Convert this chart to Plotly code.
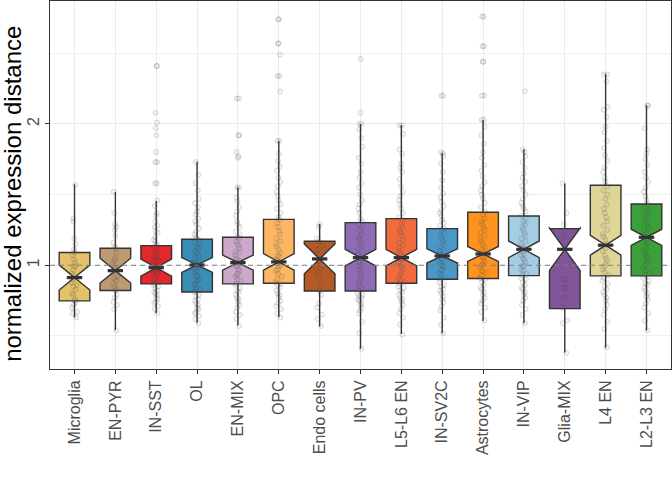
import plotly.graph_objects as go

categories = ["Microglia", "EN-PYR", "IN-SST", "OL", "EN-MIX", "OPC", "Endo cells",
              "IN-PV", "L5-L6 EN", "IN-SV2C", "Astrocytes", "IN-VIP", "Glia-MIX",
              "L4 EN", "L2-L3 EN"]
colors = ["#E5C16A", "#BD9A72", "#E5262B", "#3A8DB4", "#CCA9CB", "#FDB762", "#B35A26",
          "#8F6BB5", "#F26B3D", "#4A98CA", "#FF931E", "#A4CCE3", "#805499",
          "#DED596", "#3AA13A"]

q1 = [0.748, 0.821, 0.868, 0.811, 0.868, 0.873, 0.818, 0.818, 0.873, 0.901, 0.906, 0.927, 0.693, 0.925, 0.925]
median = [0.913, 0.962, 0.983, 1.002, 1.019, 1.024, 1.045, 1.054, 1.054, 1.066, 1.080, 1.113, 1.113, 1.142, 1.198]
q3 = [1.090, 1.120, 1.139, 1.184, 1.198, 1.325, 1.170, 1.302, 1.330, 1.259, 1.375, 1.349, 1.259, 1.566, 1.434]
lower = [0.630, 0.542, 0.660, 0.594, 0.573, 0.632, 0.566, 0.410, 0.514, 0.519, 0.606, 0.590, 0.382, 0.417, 0.538]
upper = [1.573, 1.519, 1.455, 1.733, 1.552, 1.880, 1.292, 2.000, 1.993, 1.797, 2.028, 1.821, 1.578, 2.354, 2.132]
notchspan = [0.088, 0.088, 0.060, 0.052, 0.053, 0.058, 0.105, 0.058, 0.058, 0.050, 0.053, 0.059, 0.150, 0.070, 0.057]

pts_microglia = [1.57, 1.33, 1.31, 1.19, 1.15, 1.11, 1.09, 1.07, 1.04, 1.02, 1.00, 0.99, 0.97, 0.94, 0.93, 0.91,
                 0.90, 0.88, 0.86, 0.85, 0.83, 0.80, 0.79, 0.76, 0.75, 0.74, 0.72, 0.70, 0.67, 0.66, 0.63]
pts_en_pyr = [1.52, 1.37, 1.29, 1.27, 1.25, 1.21, 1.16, 1.13, 1.12, 1.09, 1.05, 1.03, 1.01, 0.98, 0.97, 0.96,
              0.95, 0.92, 0.91, 0.89, 0.87, 0.85, 0.83, 0.82, 0.79, 0.77, 0.74, 0.72, 0.69, 0.54]
pts_in_sst = [2.41, 2.41, 2.08, 2.01, 1.97, 1.92, 1.80, 1.73, 1.73, 1.58, 1.58, 1.46, 1.42, 1.37, 1.35, 1.31,
              1.28, 1.27, 1.24, 1.23, 1.20, 1.18, 1.17, 1.15, 1.14, 1.13, 1.11, 1.10, 1.09, 1.07, 1.06, 1.05,
              1.04, 1.03, 1.03, 1.01, 1.00, 0.99, 0.99, 0.98, 0.97, 0.96, 0.95, 0.95, 0.94, 0.93, 0.91, 0.90,
              0.89, 0.88, 0.87, 0.86, 0.85, 0.84, 0.82, 0.81, 0.80, 0.79, 0.77, 0.76, 0.74, 0.73, 0.71, 0.69, 0.66]
pts_ol = [1.73, 1.64, 1.58, 1.53, 1.47, 1.44, 1.41, 1.38, 1.36, 1.33, 1.31, 1.29, 1.26, 1.24, 1.22, 1.20,
          1.19, 1.18, 1.16, 1.15, 1.13, 1.12, 1.10, 1.09, 1.08, 1.06, 1.05, 1.03, 1.02, 1.01, 1.00, 0.99,
          0.98, 0.96, 0.95, 0.93, 0.92, 0.90, 0.89, 0.87, 0.86, 0.84, 0.83, 0.82, 0.81, 0.79, 0.78, 0.76,
          0.75, 0.73, 0.72, 0.70, 0.69, 0.67, 0.66, 0.64, 0.62, 0.59]
pts_en_mix = [2.18, 2.18, 1.92, 1.92, 1.80, 1.77, 1.76, 1.55, 1.55, 1.48, 1.45, 1.41, 1.38, 1.35, 1.31, 1.29,
              1.27, 1.24, 1.22, 1.20, 1.19, 1.17, 1.15, 1.14, 1.12, 1.10, 1.09, 1.07, 1.05, 1.04, 1.03, 1.02,
              1.01, 1.00, 0.99, 0.97, 0.96, 0.94, 0.93, 0.92, 0.90, 0.89, 0.87, 0.86, 0.84, 0.82, 0.81, 0.79,
              0.77, 0.76, 0.74, 0.72, 0.70, 0.67, 0.65, 0.62, 0.57]
pts_opc = [2.74, 2.74, 2.57, 2.57, 2.49, 2.34, 2.34, 2.23, 1.88, 1.88, 1.79, 1.74, 1.70, 1.67, 1.62, 1.59,
           1.56, 1.52, 1.49, 1.46, 1.43, 1.40, 1.37, 1.34, 1.32, 1.30, 1.27, 1.24, 1.22, 1.19, 1.17, 1.15,
           1.13, 1.11, 1.09, 1.07, 1.06, 1.04, 1.03, 1.02, 1.00, 0.99, 0.97, 0.96, 0.94, 0.92, 0.90, 0.88,
           0.87, 0.86, 0.84, 0.82, 0.80, 0.79, 0.77, 0.75, 0.73, 0.71, 0.69, 0.66, 0.63]
pts_endo = [1.29, 1.27, 1.19, 1.17, 1.14, 1.11, 1.08, 1.05, 1.03, 0.98, 0.95, 0.92, 0.86, 0.82, 0.79, 0.73,
            0.70, 0.65, 0.62, 0.57]
pts_in_pv = [2.46, 2.08, 2.00, 2.00, 1.96, 1.90, 1.84, 1.76, 1.72, 1.66, 1.62, 1.58, 1.55, 1.50, 1.46, 1.43,
             1.40, 1.37, 1.33, 1.31, 1.29, 1.27, 1.25, 1.22, 1.20, 1.18, 1.16, 1.14, 1.12, 1.10, 1.08, 1.07,
             1.05, 1.04, 1.02, 1.00, 0.99, 0.97, 0.95, 0.93, 0.91, 0.89, 0.87, 0.85, 0.83, 0.82, 0.80, 0.79,
             0.78, 0.77, 0.76, 0.75, 0.73, 0.72, 0.70, 0.68, 0.66, 0.60, 0.52, 0.41]
pts_l5_l6_en = [1.99, 1.99, 1.93, 1.82, 1.79, 1.72, 1.69, 1.66, 1.61, 1.56, 1.52, 1.49, 1.46, 1.43, 1.40, 1.37,
                1.34, 1.32, 1.29, 1.27, 1.25, 1.23, 1.21, 1.18, 1.16, 1.14, 1.12, 1.10, 1.08, 1.06, 1.05, 1.04,
                1.02, 1.00, 0.99, 0.97, 0.95, 0.93, 0.91, 0.90, 0.88, 0.87, 0.85, 0.84, 0.82, 0.81, 0.79, 0.77,
                0.76, 0.74, 0.72, 0.69, 0.66, 0.63, 0.58, 0.51]
pts_in_sv2c = [2.20, 2.20, 1.80, 1.79, 1.77, 1.72, 1.66, 1.60, 1.55, 1.51, 1.48, 1.45, 1.42, 1.39, 1.37, 1.35,
               1.32, 1.30, 1.28, 1.26, 1.25, 1.23, 1.21, 1.19, 1.17, 1.15, 1.13, 1.11, 1.10, 1.08, 1.07, 1.06,
               1.05, 1.04, 1.02, 1.01, 1.00, 0.99, 0.97, 0.96, 0.94, 0.93, 0.91, 0.90, 0.88, 0.86, 0.85, 0.83,
               0.82, 0.80, 0.78, 0.76, 0.74, 0.71, 0.68, 0.63, 0.58, 0.52]
pts_astrocytes = [2.76, 2.76, 2.55, 2.55, 2.44, 2.44, 2.20, 2.20, 2.03, 2.03, 1.98, 1.92, 1.86, 1.80, 1.76, 1.71,
                  1.67, 1.63, 1.59, 1.56, 1.53, 1.50, 1.47, 1.44, 1.41, 1.38, 1.36, 1.33, 1.31, 1.29, 1.27, 1.25,
                  1.23, 1.21, 1.19, 1.17, 1.15, 1.13, 1.11, 1.09, 1.08, 1.06, 1.05, 1.03, 1.01, 1.00, 0.98, 0.96,
                  0.95, 0.93, 0.91, 0.90, 0.88, 0.86, 0.84, 0.83, 0.81, 0.79, 0.77, 0.75, 0.73, 0.70, 0.67, 0.61]
pts_in_vip = [2.23, 1.82, 1.80, 1.77, 1.73, 1.69, 1.65, 1.62, 1.59, 1.56, 1.53, 1.50, 1.47, 1.44, 1.42, 1.40,
              1.38, 1.35, 1.33, 1.31, 1.29, 1.27, 1.25, 1.23, 1.21, 1.19, 1.17, 1.15, 1.13, 1.12, 1.11, 1.10,
              1.08, 1.07, 1.05, 1.04, 1.02, 1.00, 0.99, 0.97, 0.96, 0.94, 0.93, 0.91, 0.90, 0.88, 0.86, 0.84,
              0.83, 0.81, 0.79, 0.77, 0.75, 0.72, 0.69, 0.65, 0.59]
pts_glia_mix = [1.58, 1.37, 1.29, 1.21, 1.20, 0.90, 0.90, 0.84, 0.84, 0.77, 0.70, 0.61, 0.59, 0.38]
pts_l4_en = [2.35, 2.35, 2.30, 2.12, 2.10, 2.05, 1.98, 1.94, 1.88, 1.83, 1.78, 1.74, 1.69, 1.66, 1.62, 1.59,
             1.56, 1.53, 1.50, 1.47, 1.43, 1.40, 1.37, 1.34, 1.31, 1.28, 1.25, 1.22, 1.20, 1.18, 1.15, 1.14,
             1.12, 1.10, 1.07, 1.05, 1.03, 1.01, 0.99, 0.97, 0.95, 0.93, 0.91, 0.89, 0.87, 0.85, 0.83, 0.81,
             0.79, 0.77, 0.75, 0.72, 0.69, 0.65, 0.60, 0.55, 0.42]
pts_l2_l3_en = [2.13, 2.13, 1.97, 1.82, 1.79, 1.75, 1.71, 1.66, 1.62, 1.59, 1.55, 1.52, 1.49, 1.46, 1.43, 1.41,
                1.39, 1.37, 1.35, 1.33, 1.31, 1.29, 1.27, 1.25, 1.23, 1.21, 1.20, 1.18, 1.16, 1.14, 1.12, 1.10,
                1.08, 1.06, 1.04, 1.02, 1.00, 0.98, 0.96, 0.94, 0.93, 0.91, 0.89, 0.87, 0.86, 0.84, 0.82, 0.80,
                0.78, 0.76, 0.73, 0.70, 0.66, 0.61, 0.54]

points = [pts_microglia, pts_en_pyr, pts_in_sst, pts_ol, pts_en_mix, pts_opc, pts_endo, pts_in_pv,
          pts_l5_l6_en, pts_in_sv2c, pts_astrocytes, pts_in_vip, pts_glia_mix, pts_l4_en, pts_l2_l3_en]

reference_level = 1.0
y_title = "normalized expression distance"

FONT = "Liberation Sans"
fig = go.Figure()

for i, cat in enumerate(categories):
    fig.add_trace(go.Box(
        x=[cat], q1=[q1[i]], median=[median[i]], q3=[q3[i]],
        lowerfence=[lower[i]], upperfence=[upper[i]], notchspan=[notchspan[i]],
        notched=True, notchwidth=0.5, whiskerwidth=0, width=0.75,
        fillcolor=colors[i], line=dict(color="#333333", width=1.4),
        boxpoints=False, showlegend=False, hoverinfo="skip"))

fig.add_trace(go.Scatter(
    x=categories, y=median, mode="markers", showlegend=False, hoverinfo="skip",
    marker=dict(symbol="line-ew", size=11, line=dict(color="#333333", width=3.2))))

for i, cat in enumerate(categories):
    fig.add_trace(go.Box(
        x=[cat] * len(points[i]), y=points[i], boxpoints="all", jitter=0.22, pointpos=0,
        width=0.75, fillcolor="rgba(0,0,0,0)", line=dict(width=0, color="rgba(0,0,0,0)"),
        marker=dict(size=5, color="rgba(110,110,110,0.07)",
                    line=dict(color="rgba(60,60,60,0.22)", width=0.8)),
        showlegend=False, hoverinfo="skip"))

fig.add_hline(y=reference_level, line=dict(color="#7F7F7F", width=1.2, dash="5px,4px"), layer="above")

fig.add_annotation(text=y_title, xref="paper", yref="paper", x=-0.0615, y=0.4755,
                   xanchor="center", yanchor="middle", textangle=-90, showarrow=False,
                   font=dict(family=FONT, size=24, color="black"))

fig.update_layout(
    width=672, height=480,
    margin=dict(l=50, r=1, t=1, b=111),
    paper_bgcolor="white", plot_bgcolor="white",
    boxmode="overlay",
    font=dict(family=FONT, size=16, color="#4D4D4D"),
    xaxis=dict(
        type="category", categoryorder="array", categoryarray=categories,
        range=[-0.6, len(categories) - 0.4],
        showgrid=True, gridcolor="#EBEBEB", gridwidth=1.4,
        showline=True, mirror=True, linecolor="#333333", linewidth=1,
        ticks="outside", ticklen=4, tickcolor="#333333", tickwidth=1,
        tickangle=-90, tickfont=dict(family=FONT, size=16, color="#4D4D4D"),
        zeroline=False, automargin=False),
    yaxis=dict(
        range=[0.266, 2.87], tickvals=[1, 2], ticktext=["1", "2"],
        showgrid=True, gridcolor="#EBEBEB", gridwidth=1.4,
        minor=dict(tickvals=[0.5, 1.5, 2.5], showgrid=True, gridcolor="#EFEFEF", gridwidth=0.8, ticks=""),
        showline=True, mirror=True, linecolor="#333333", linewidth=1,
        ticks="outside", ticklen=4, tickcolor="#333333", tickwidth=1,
        tickangle=-90, tickfont=dict(family=FONT, size=16, color="#4D4D4D"),
        zeroline=False, automargin=False),
)

fig.write_html("out.html", config={"displayModeBar": False},
               post_script="document.body.style.margin='0';document.body.style.overflow='hidden';")
